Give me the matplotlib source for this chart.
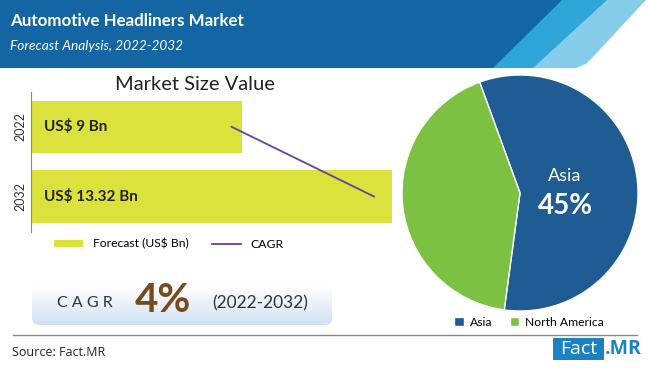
import matplotlib
matplotlib.use("Agg")
import matplotlib.pyplot as plt
import numpy as np
from matplotlib.patches import Polygon, FancyBboxPatch, Rectangle, Patch
from matplotlib.lines import Line2D
from matplotlib.colors import LinearSegmentedColormap

# ---- data ----
years = ["2022", "2032"]
market_values = [9.0, 13.32]
value_labels = ["US$ 9 Bn", "US$ 13.32 Bn"]
cagr_line = [8.7, 12.8]
regions = ["Asia", "North America"]
region_share = [45, 33]
cagr_text = "4%"
period_text = "(2022-2032)"

plt.rcParams['font.family'] = ['Lato', 'DejaVu Sans']

W, H = 650, 369
fig = plt.figure(figsize=(W / 100, H / 100), dpi=100)
fig.patch.set_facecolor("white")

def px_axes(x0, y0, x1, y1, **kw):
    """axes from pixel box (top-left origin)"""
    return fig.add_axes([x0 / W, 1 - y1 / H, (x1 - x0) / W, (y1 - y0) / H], **kw)

# background / decoration axes
bg = px_axes(0, 0, W, H)
bg.set_xlim(0, W)
bg.set_ylim(H, 0)
bg.axis("off")

# header banner
bg.add_patch(Polygon([[500, 68], [576, 68], [586, 64], [592, 58], [646, 0], [560, 0]],
                     closed=True, color="#86cdea", lw=0))
bg.add_patch(Polygon([[0, 0], [607, 0], [533, 68], [0, 68]], closed=True, color="#2ea6da", lw=0))
bg.add_patch(Polygon([[0, 0], [562, 0], [493, 68], [0, 68]], closed=True, color="#1465a4", lw=0))
bg.text(10, 21, "Automotive Headliners Market", color="white", fontsize=12.2,
        fontweight="bold", va="center", ha="left")
bg.text(10, 46, "Forecast Analysis, 2022-2032", color="white", fontsize=9.8,
        style="italic", va="center", ha="left")

# market size title
bg.text(195, 84, "Market Size Value", fontsize=14.5, color="#222222", ha="center", va="center")

# CAGR box with gradient
box = FancyBboxPatch((32, 285), 300, 40, boxstyle="round,pad=0,rounding_size=7",
                     facecolor="none", edgecolor="none")
bg.add_patch(box)
grad = np.linspace(0, 1, 100).reshape(-1, 1)
cm = LinearSegmentedColormap.from_list("g", ["#ffffff", "#cfe2f3"])
im = bg.imshow(grad, extent=[32, 332, 325, 285], cmap=cm, aspect="auto", zorder=1)
im.set_clip_path(box)
bg.set_xlim(0, W)
bg.set_ylim(H, 0)
bg.text(85, 303, "C A G R", fontsize=11.5, color="#333333", ha="center", va="center")
bg.text(163, 301, cagr_text, fontsize=29, color="#7a4a1f", fontweight="bold", ha="center", va="center")
bg.text(260, 303, period_text, fontsize=12.5, color="#333333", ha="center", va="center")

# separator and source
bg.plot([13, 637], [335, 335], color="#888888", lw=1)
bg.text(12, 352, "Source: Fact.MR", fontsize=9, color="#222222", ha="left", va="center",
        family=["Open Sans", "DejaVu Sans"])
bg.add_patch(Rectangle((553, 338), 51, 22, color="#1a82c4", lw=0))
bg.text(578.5, 349.5, "Fact", color="white", fontsize=14, ha="center", va="center",
        family=["Open Sans", "DejaVu Sans"])
bg.text(605, 349.5, ".MR", color="#1a82c4", fontsize=14, ha="left", va="center",
        fontweight="bold", family=["Open Sans", "DejaVu Sans"])

# ---- bar chart ----
ax = px_axes(31, 92, 392, 232)
ypos = np.arange(len(years))
ax.barh(ypos, market_values, height=0.75, color="#dbe23b", zorder=2)
ax.plot(cagr_line, ypos, color="#6b3fa0", lw=1.3, zorder=3)
for y, lab in zip(ypos, value_labels):
    ax.text(3.3, y, lab, fontsize=11, fontweight="bold", color="#222222", va="center", ha="left")
ax.set_xlim(2.92, 13.32)
ax.set_ylim(1.51, -0.50)
ax.set_yticks(ypos)
ax.set_yticklabels(years, rotation=90, va="center", fontsize=9, color="#333333")
ax.tick_params(axis="y", length=0, pad=3)
ax.set_xticks([])
for s in ["top", "right", "bottom"]:
    ax.spines[s].set_visible(False)
ax.spines["left"].set_color("#888888")
ax.patch.set_alpha(0)

handles = [Patch(facecolor="#dbe23b", edgecolor="none"),
           Line2D([0], [0], color="#6b3fa0", lw=1.3)]
fig.legend(handles, ["Forecast (US$ Bn)", "CAGR"], loc="center left",
           bbox_to_anchor=(46 / W, 1 - 244 / H), ncol=2, frameon=False, fontsize=8.7,
           handlelength=2.4, handleheight=0.5, columnspacing=1.9, handletextpad=0.8,
           borderpad=0.2)

# ---- pie ----
pax = px_axes(402, 75, 638, 311)
wedges, _ = pax.pie(region_share, colors=["#1f5c94", "#7dc143"], startangle=110,
                    counterclock=False, radius=1.0,
                    wedgeprops=dict(edgecolor="white", linewidth=1))
pax.set_xlim(-1, 1)
pax.set_ylim(-1, 1)
pax.set_aspect("equal")
pax.text(565, 176, regions[0], color="white", fontsize=13, ha="center", va="center",
         transform=bg.transData)
pax.text(565, 206, f"{region_share[0]}%", color="white", fontsize=20, fontweight="bold",
         ha="center", va="center", transform=bg.transData)

fig.legend(wedges, regions, loc="center left", bbox_to_anchor=(446 / W, 1 - 322 / H),
           ncol=2, frameon=False, fontsize=8.7, handlelength=0.8, handleheight=0.8,
           columnspacing=1.4, handletextpad=0.5, borderpad=0.2)

fig.savefig("out.png", dpi=100)
